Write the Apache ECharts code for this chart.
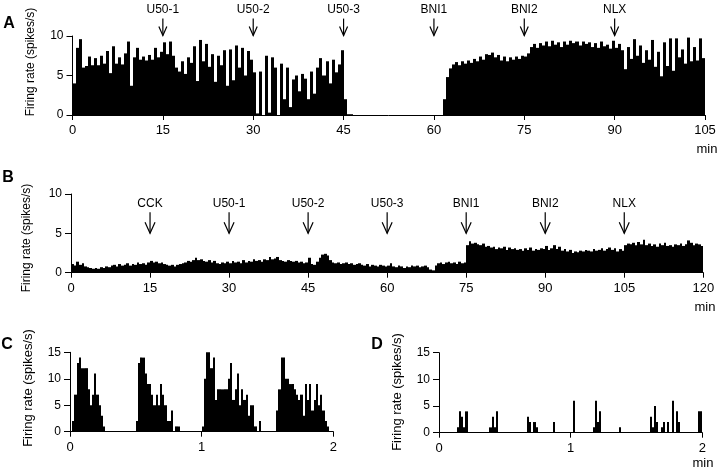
<!DOCTYPE html>
<html>
<head>
<meta charset="utf-8">
<script src="https://cdn.jsdelivr.net/npm/echarts@6/dist/echarts.min.js"></script>
<style>
  html, body { margin: 0; padding: 0; background: #fff; }
  #chart { width: 720px; height: 472px; }
</style>
</head>
<body>
<div id="chart"></div>
<script>
// panel A: firing rate, 0.5 min bins, 0-105 min
const rateA = [
  4, 8.5, 9.6, 6, 6.2, 7.4, 6.3, 7.2, 6.3, 7.5,
  6.5, 8.1, 5.3, 8.7, 6.5, 7.3, 6.4, 7.8, 9.3, 3.7,
  7.3, 8.5, 7.0, 7.4, 6.9, 7.6, 7.0, 8.5, 7.3, 8.0,
  9.2, 7.7, 9.3, 7.5, 6.0, 5.5, 6.8, 5.2, 7.3, 6.6,
  8.7, 4.3, 9.5, 6.8, 9.0, 6.1, 7.7, 4.2, 7.5, 6.3,
  8.2, 3.7, 8.3, 4.4, 8.8, 6.0, 8.5, 5.0, 8.1, 7.0,
  5.4, 0.2, 5.5, 0, 7.5, 0.3, 7.3, 6.0, 0, 6.5,
  2.0, 6.0, 1.0, 4.5, 5.0, 3.0, 5.2, 4.6, 2.0, 5.5,
  2.7, 6.0, 7.2, 5.0, 6.8, 4.0, 7.0, 5.4, 6.4, 8.2,
  2.0, 0.1, 0.1, 0, 0, 0, 0, 0, 0, 0,
  0, 0, 0, 0, 0, 0, 0, 0, 0, 0,
  0, 0, 0, 0, 0, 0, 0, 0, 0, 0,
  0, 0, 0, 2.0, 4.8, 5.9, 6.4, 6.7, 6.3, 6.8,
  6.5, 6.9, 6.6, 7.1, 6.8, 7.4, 7.0, 7.7, 7.6, 7.9,
  7.3, 7.6, 6.9, 7.4, 6.8, 7.3, 7.0, 7.4, 7.1, 7.5,
  7.4, 7.8, 8.6, 9.0, 8.5, 9.1, 8.8, 9.3, 8.7, 9.4,
  8.9, 9.2, 8.6, 9.3, 8.9, 9.4, 9.1, 9.3, 8.8, 9.3,
  9.0, 9.2, 8.6, 9.1, 8.5, 9.3, 8.7, 8.9, 8.4, 9.4,
  8.5, 9.0, 8.2, 5.8, 8.6, 7.1, 9.6, 7.5, 8.8, 6.6,
  8.2, 7.0, 9.5, 6.1, 8.0, 4.9, 9.2, 6.2, 9.7, 5.6,
  9.7, 7.3, 8.3, 6.5, 9.8, 6.8, 8.6, 6.9, 9.7, 7.2
];

// panel B: firing rate, 0.5 min bins, 0-120 min
const rateB = [
  1.1, 0.9, 1.4, 1.0, 1.2, 0.8, 0.7, 0.6, 0.5, 0.6,
  0.5, 0.7, 0.6, 0.8, 0.7, 0.9, 1.0, 0.8, 1.1, 0.9,
  1.0, 1.2, 0.9, 1.1, 1.0, 1.3, 1.1, 1.2, 1.0, 1.3,
  1.5, 1.3, 1.4, 1.2, 1.3, 1.1, 1.0, 0.9, 1.0, 0.8,
  1.0, 1.1, 1.2, 1.3, 1.5, 1.4, 1.6, 1.9, 1.6, 1.7,
  1.5, 1.4, 1.6, 1.3, 1.5, 1.2, 1.1, 1.3, 1.2, 1.4,
  1.2, 1.5, 1.3, 1.4, 1.2, 1.6, 1.3, 1.5, 1.4, 1.7,
  1.5, 1.6, 1.4, 1.7, 1.6, 2.0, 1.7, 1.8, 2.0, 1.6,
  1.5, 1.4, 1.6, 1.5, 1.4, 1.5, 1.3, 1.4, 1.2, 1.3,
  1.9, 1.1, 1.0, 1.4, 1.9, 2.3, 2.4, 2.2, 1.6, 1.3,
  1.2, 1.3, 1.1, 1.2, 1.3, 1.1, 1.2, 1.0, 1.1, 1.2,
  1.0, 0.9, 1.1, 0.8, 1.0, 0.9, 0.8, 1.0, 0.9, 0.8,
  0.9, 1.2, 0.8, 0.7, 0.9, 0.8, 0.6, 0.8, 0.7, 0.9,
  0.8, 0.9, 0.7, 0.8, 0.9, 0.7, 0.4, 0.3, 0.9, 1.2,
  1.3, 1.1, 1.3, 1.4, 1.2, 1.3, 1.1, 1.4, 1.2, 1.3,
  3.5, 4.0, 3.7, 3.8, 3.6, 3.5, 3.7, 3.3, 3.4, 3.2,
  3.3, 3.0, 3.2, 3.1, 3.3, 2.9, 3.2, 3.0, 3.1, 2.9,
  3.0, 2.8, 3.1, 2.9, 3.2, 2.8, 3.0, 2.9, 3.1, 3.0,
  3.4, 2.9, 3.1, 3.5, 3.0, 3.3, 2.8, 3.0, 2.7, 2.9,
  2.5, 2.7, 2.6, 2.8, 2.7, 2.9, 2.8, 2.7, 3.0, 2.8,
  2.9, 3.1, 2.8, 3.0, 3.2, 2.9, 3.1, 2.7, 3.0, 2.8,
  3.5, 3.7, 3.6, 3.8, 3.5, 3.9, 3.6, 4.2, 3.5, 3.7,
  3.4, 3.6, 3.3, 3.7, 3.5, 3.8, 3.4, 3.5, 3.3, 3.6,
  3.5, 3.7, 3.4, 3.6, 4.1, 3.8, 3.5, 3.7, 3.6, 3.4
];

// panels C and D: 1 s bins over 2 min
const rateC = [
  0, 2, 7, 13, 14, 12, 12, 12, 8, 5,
  7, 11, 7, 5, 3, 1, 0, 0, 0, 0,
  0, 0, 0, 0, 0, 0, 0, 0, 0, 0,
  2, 13, 14, 14, 11, 9, 9, 7, 5, 7,
  5, 9, 7, 5, 2, 2, 4, 0, 1, 1,
  0, 0, 0, 0, 0, 0, 0, 0, 0, 0,
  1, 10, 15, 15, 12, 14, 6, 8, 8, 8,
  8, 8, 10, 13, 6, 8, 11, 5, 8, 6,
  7, 3, 5, 5, 1, 0, 2, 0, 0, 0,
  0, 0, 0, 0, 4, 8, 14, 14, 10, 10,
  9, 9, 8, 7, 6, 7, 3, 9, 6, 9,
  4, 6, 9, 5, 7, 4, 2, 1, 0, 0
];
const rateD = [
  0, 0, 0, 0, 0, 0, 0, 0, 1, 4,
  3, 1, 4, 0, 0, 0, 0, 0, 0, 0,
  0, 0, 0, 1, 3, 1, 4, 0, 0, 0,
  0, 0, 0, 0, 0, 0, 0, 0, 0, 0,
  3, 2, 0, 2, 1, 0, 0, 0, 0, 0,
  0, 0, 2, 0, 0, 0, 0, 0, 0, 0,
  0, 6, 0, 0, 0, 0, 0, 0, 0, 0,
  1, 6, 2, 4, 0, 0, 0, 0, 0, 0,
  0, 0, 1, 0, 0, 0, 0, 0, 0, 0,
  0, 0, 0, 0, 0, 0, 3, 1, 5, 2,
  0, 1, 2, 0, 2, 0, 6, 0, 4, 2,
  0, 0, 0, 0, 0, 0, 0, 0, 4, 4
];

// drug injections (min) and their labels
const drugTimesA = [15, 30, 45, 60, 75, 90];
const drugNamesA = ['U50-1', 'U50-2', 'U50-3', 'BNI1', 'BNI2', 'NLX'];
const drugTimesB = [15, 30, 45, 60, 75, 90, 105];
const drugNamesB = ['CCK', 'U50-1', 'U50-2', 'U50-3', 'BNI1', 'BNI2', 'NLX'];

const FONT = '"Liberation Sans", Arial, sans-serif';

function toBins(values, binW) {
  return values.map((v, i) => [i * binW, v]);
}

function histSeries(idx, values, binW) {
  return {
    type: 'custom',
    xAxisIndex: idx,
    yAxisIndex: idx,
    data: toBins(values, binW),
    renderItem: function (params, api) {
      const x0 = api.value(0);
      const v = api.value(1);
      if (!v) return null;
      const p0 = api.coord([x0, 0]);
      const p1 = api.coord([x0 + binW, v]);
      // snap to whole pixels so neighbouring bins leave no seams
      const xl = Math.round(p0[0]);
      const xr = Math.round(p1[0]);
      return {
        type: 'rect',
        shape: { x: xl, y: p1[1], width: Math.max(1, xr - xl), height: p0[1] - p1[1] },
        style: { fill: '#000' }
      };
    }
  };
}

// arrow + label drawn above a point on the axis scale
function arrowSeries(idx, times, names, tipVal, len, hw, hh) {
  return {
    type: 'custom',
    xAxisIndex: idx,
    yAxisIndex: idx,
    clip: false,
    data: times.map((t, i) => [t, tipVal, i]),
    renderItem: function (params, api) {
      const p = api.coord([api.value(0), api.value(1)]);
      const name = names[api.value(2)];
      return {
        type: 'group',
        children: [
          { type: 'line', shape: { x1: p[0], y1: p[1] - len, x2: p[0], y2: p[1] },
            style: { stroke: '#000', lineWidth: 1.2 } },
          { type: 'polyline', shape: { points: [[p[0] - hw, p[1] - hh], [p[0], p[1]], [p[0] + hw, p[1] - hh]] },
            style: { stroke: '#000', fill: null, lineWidth: 1.2 } },
          { type: 'text', x: p[0], y: p[1] - len - 3,
            style: { text: name, align: 'center', verticalAlign: 'bottom', font: '12px ' + FONT, fill: '#000' } }
        ]
      };
    }
  };
}

function xAx(idx, max, interval) {
  return {
    gridIndex: idx, type: 'value', min: 0, max: max, interval: interval,
    axisLine: { show: true, lineStyle: { color: '#000', width: 1 } },
    axisTick: { show: true, length: 5, lineStyle: { color: '#000' } },
    axisLabel: { color: '#000', fontSize: 13, fontFamily: FONT, margin: 9 },
    splitLine: { show: false }
  };
}
function yAx(idx, max) {
  return {
    gridIndex: idx, type: 'value', min: 0, max: max, interval: 5,
    axisLine: { show: true, lineStyle: { color: '#000', width: 1 } },
    axisTick: { show: true, length: 6, lineStyle: { color: '#000' } },
    axisLabel: { color: '#000', fontSize: 12, fontFamily: FONT, margin: 9 },
    splitLine: { show: false }
  };
}

function txt(x, y, text, size, bold, rot) {
  return {
    type: 'text', x: x, y: y, rotation: rot || 0,
    style: { text: text, align: 'center', verticalAlign: 'middle',
      font: (bold ? 'bold ' : '') + size + 'px ' + FONT, fill: '#000' }
  };
}

const chart = echarts.init(document.getElementById('chart'));
const option = {
  animation: false,
  backgroundColor: '#fff',
  grid: [
    { left: 72.5, top: 36, width: 632.5, height: 79, containLabel: false, outerBoundsMode: 'none' },
    { left: 71, top: 194, width: 632.3, height: 78.7, containLabel: false, outerBoundsMode: 'none' },
    { left: 70, top: 352.3, width: 263.3, height: 79.4, containLabel: false, outerBoundsMode: 'none' },
    { left: 439, top: 352.7, width: 263.3, height: 80, containLabel: false, outerBoundsMode: 'none' }
  ],
  xAxis: [xAx(0, 105, 15), xAx(1, 120, 15), xAx(2, 2, 1), xAx(3, 2, 1)],
  yAxis: [yAx(0, 10), yAx(1, 10), yAx(2, 15), yAx(3, 15)],
  series: [
    histSeries(0, rateA, 0.5),
    histSeries(1, rateB, 0.5),
    histSeries(2, rateC, 1 / 60),
    histSeries(3, rateD, 1 / 60),
    arrowSeries(0, drugTimesA, drugNamesA, 10.05, 17, 4, 9),
    arrowSeries(1, drugTimesB, drugNamesB, 5.0, 21, 5, 11)
  ],
  graphic: [
    txt(9, 24, 'A', 16, true),
    txt(8, 178, 'B', 16, true),
    txt(7, 345, 'C', 16, true),
    txt(377, 345, 'D', 16, true),
    txt(31, 62, 'Firing rate (spikes/s)', 12, false, Math.PI / 2),
    txt(27, 238, 'Firing rate (spikes/s)', 12, false, Math.PI / 2),
    txt(28, 388, 'Firing rate (spikes/s)', 13, false, Math.PI / 2),
    txt(397, 392, 'Firing rate (spikes/s)', 13, false, Math.PI / 2),
    txt(707, 149, 'min', 13),
    txt(705, 307, 'min', 13),
    txt(703, 463, 'min', 13)
  ]
};
chart.setOption(option);
</script>
</body>
</html>
